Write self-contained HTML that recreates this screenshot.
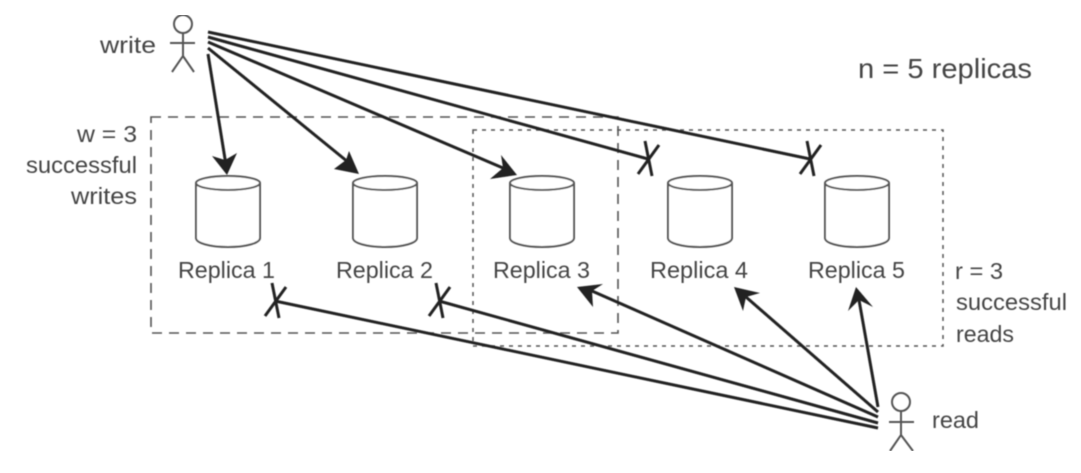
<!DOCTYPE html>
<html><head><meta charset="utf-8"><style>
html,body{margin:0;padding:0;background:#fff;width:1081px;height:473px;overflow:hidden}
svg{display:block}
text{font-family:"Liberation Sans",sans-serif;font-size:23px;fill:#444;letter-spacing:0}
.a{stroke:#222;stroke-width:3;fill:none}
.p{stroke:#555;stroke-width:2;fill:none}
.c{stroke:#555;stroke-width:2;fill:#fff}
</style></head><body>
<svg width="1081" height="473" viewBox="0 0 1081 473" xmlns="http://www.w3.org/2000/svg">
<defs>
<symbol id="cyl" overflow="visible"><path class="c" d="M0 7V62C0 67 14 71 32 71S64 67 64 62V7"/><ellipse class="c" cx="32" cy="7" rx="32" ry="7"/></symbol>
<symbol id="x" overflow="visible"><path class="a" d="M-3-18L4 17M-10 15L11-14"/></symbol>
<filter id="b" x="0" y="0" width="100%" height="100%"><feGaussianBlur stdDeviation="0.45"/></filter>
</defs>
<g filter="url(#b)">
<rect x="151" y="117" width="467" height="216" fill="none" stroke="#555" stroke-width="1.6" stroke-dasharray="10 7"/>
<rect x="473" y="130" width="470" height="216" fill="none" stroke="#555" stroke-width="1.5" stroke-dasharray="4 5"/>
<use href="#cyl" x="196" y="176"/><use href="#cyl" x="353" y="176"/><use href="#cyl" x="510" y="176"/><use href="#cyl" x="668" y="176"/><use href="#cyl" x="825" y="176"/>
<text x="178" y="278" textLength="97" lengthAdjust="spacingAndGlyphs">Replica 1</text>
<text x="336" y="278" textLength="97" lengthAdjust="spacingAndGlyphs">Replica 2</text>
<text x="493" y="278" textLength="97" lengthAdjust="spacingAndGlyphs">Replica 3</text>
<text x="650" y="278" textLength="98" lengthAdjust="spacingAndGlyphs">Replica 4</text>
<text x="808" y="278" textLength="97" lengthAdjust="spacingAndGlyphs">Replica 5</text>
<text x="100" y="53" textLength="56" lengthAdjust="spacingAndGlyphs">write</text>
<text x="932" y="428" textLength="47" lengthAdjust="spacingAndGlyphs">read</text>
<text x="858" y="78" textLength="174" lengthAdjust="spacingAndGlyphs" style="font-size:28px">n = 5 replicas</text>
<text x="77" y="142" textLength="60" lengthAdjust="spacingAndGlyphs">w = 3</text>
<text x="26" y="173" textLength="111" lengthAdjust="spacingAndGlyphs">successful</text>
<text x="71" y="204" textLength="66" lengthAdjust="spacingAndGlyphs">writes</text>
<text x="955" y="279" textLength="48" lengthAdjust="spacingAndGlyphs">r = 3</text>
<text x="956" y="310" textLength="111" lengthAdjust="spacingAndGlyphs">successful</text>
<text x="956" y="342" textLength="58" lengthAdjust="spacingAndGlyphs">reads</text>
<circle class="p" cx="183" cy="24" r="9"/><path class="p" d="M170 43H195M183 33V56L172 72M183 56L194 72"/>
<circle class="p" cx="901" cy="402" r="9"/><path class="p" d="M889 422H914M901 411V435L890 451M901 435L913 451"/>
<path class="a" d="M208 32L810 159M208 37L648 159M208 42L503 168M208 48L348 162M208 54L226 165"/>
<path class="a" d="M878 428L275 301M878 423L439 301M878 417L592 291M878 412L746 297M878 407L859 300"/>
<g fill="#222">
<polygon points="227,175 212,156 225,160 237,153"/>
<polygon points="359,174 334,169 346,160 349,151"/>
<polygon points="517,175 490,179 503,168 501,155"/>
<polygon points="577,287 603,284 592,291 593,307"/>
<polygon points="734,287 760,293 746,297 743,311"/>
<polygon points="856,287 873,307 859,300 848,311"/>
</g>
<use href="#x" x="275" y="301"/><use href="#x" x="439" y="301"/><use href="#x" x="648" y="159"/><use href="#x" x="810" y="159"/>
</g>
</svg>
</body></html>
